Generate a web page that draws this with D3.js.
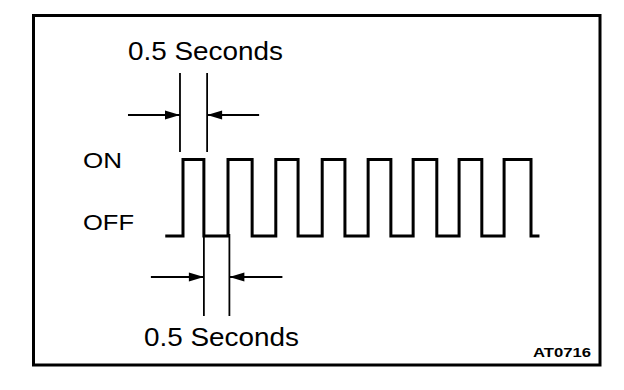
<!DOCTYPE html>
<html>
<head>
<meta charset="utf-8">
<script src="https://cdn.jsdelivr.net/npm/d3@7"></script>
<style>
  html, body { margin: 0; padding: 0; background: #fff; }
  svg { display: block; }
  text { font-family: "Liberation Sans", Arial, Helvetica, sans-serif; fill: #000; }
</style>
</head>
<body>
<svg id="chart" width="624" height="390"></svg>
<script>
// ---- data ----
const states = ["ON", "OFF"];
// switching times of the signal, in seconds (starts OFF, alternates)
const startTime = -0.35;
const transitionTimes = [0, 0.45, 0.97, 1.49, 2.0, 2.48, 3.0, 3.49, 3.99, 4.48, 4.96, 5.47, 5.95, 6.44, 6.92, 7.5];
const endTime = 7.65;
// dimension markers: [from, to] in seconds, label
const dimTop = { from: -0.065, to: 0.52, label: "0.5 Seconds" };
const dimBottom = { from: 0.45, to: 1.0, label: "0.5 Seconds" };
const figureCode = "AT0716";

// ---- layout ----
const svg = d3.select("#chart");
const x = d3.scaleLinear().domain([0, 7.5]).range([183, 531]);
const y = d3.scalePoint().domain(states).range([159.5, 236]);

// frame
svg.append("rect")
  .attr("x", 33.5).attr("y", 15.5).attr("width", 566.5).attr("height", 349.5)
  .attr("fill", "none").attr("stroke", "#000").attr("stroke-width", 3);

// build step points
const pts = [{ t: startTime, s: "OFF" }];
transitionTimes.forEach((t, i) => pts.push({ t, s: i % 2 === 0 ? "ON" : "OFF" }));
pts.push({ t: endTime, s: pts[pts.length - 1].s });

const line = d3.line()
  .x(d => x(d.t))
  .y(d => y(d.s))
  .curve(d3.curveStepAfter);

svg.append("path")
  .datum(pts)
  .attr("d", line)
  .attr("fill", "none")
  .attr("stroke", "#000")
  .attr("stroke-width", 3)
  .attr("stroke-linejoin", "miter")
  .attr("stroke-linecap", "square");

// state labels
const labelX = 83;
svg.selectAll("text.state")
  .data(states)
  .join("text")
  .attr("class", "state")
  .attr("x", labelX)
  .attr("y", d => d === "ON" ? y(d) + 8.5 : y(d) - 6)
  .attr("font-size", 22.5)
  .attr("textLength", d => d === "ON" ? 39 : 51)
  .attr("lengthAdjust", "spacingAndGlyphs")
  .text(d => d);

// dimension helpers
function arrowHead(g, tipX, yy, dir) {
  const L = 15, W = 4.5;
  g.append("path")
    .attr("d", `M${tipX},${yy} L${tipX - dir * L},${yy - W} L${tipX - dir * L},${yy + W} Z`)
    .attr("fill", "#000");
}

function drawDim(dim, lineTop, lineBottom, arrowY, outLen, textX, textBaseline) {
  const g = svg.append("g");
  const x0 = x(dim.from), x1 = x(dim.to);
  [x0, x1].forEach(xx => {
    g.append("line")
      .attr("x1", xx).attr("x2", xx)
      .attr("y1", lineTop).attr("y2", lineBottom)
      .attr("stroke", "#000").attr("stroke-width", 1.8);
  });
  g.append("line")
    .attr("x1", x0 - outLen).attr("x2", x0)
    .attr("y1", arrowY).attr("y2", arrowY)
    .attr("stroke", "#000").attr("stroke-width", 2);
  arrowHead(g, x0, arrowY, 1);
  g.append("line")
    .attr("x1", x1).attr("x2", x1 + outLen)
    .attr("y1", arrowY).attr("y2", arrowY)
    .attr("stroke", "#000").attr("stroke-width", 2);
  arrowHead(g, x1, arrowY, -1);
  g.append("text")
    .attr("x", textX).attr("y", textBaseline)
    .attr("font-size", 25.5)
    .attr("textLength", 155)
    .attr("lengthAdjust", "spacingAndGlyphs")
    .text(dim.label);
}

drawDim(dimTop, 73, 152, 115, 52, 128, 60);
drawDim(dimBottom, 234, 316, 277, 53, 144, 346);

// figure code
svg.append("text")
  .attr("x", 533).attr("y", 357)
  .attr("font-size", 12.5)
  .attr("font-weight", "bold")
  .attr("textLength", 58)
  .attr("lengthAdjust", "spacingAndGlyphs")
  .text(figureCode);
</script>
</body>
</html>
